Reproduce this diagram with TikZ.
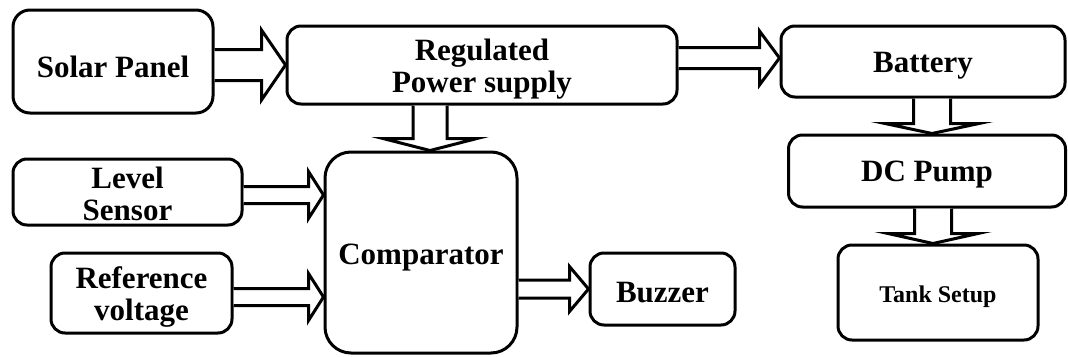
\documentclass[tikz,border=0pt]{standalone}
\usepackage{fontspec}
\setmainfont{Liberation Serif}
\usetikzlibrary{calc}
\tikzset{
  box/.style={draw=black, line width=3pt, rounded corners=14pt, fill=white, inner sep=0pt},
  txt/.style={align=center, inner sep=0pt, yshift=-4pt, font=\fontsize{31}{32}\selectfont\bfseries},
  barrow/.style={draw=black, fill=white, line width=3pt, line join=miter, miter limit=10},
}
\newcommand{\harr}[5]{\draw[barrow] ($(#1)+(0,#3)$) -- ($(#2)+(-#5,#3)$) -- ($(#2)+(-#5,#4)$) -- (#2) -- ($(#2)+(-#5,-#4)$) -- ($(#2)+(-#5,-#3)$) -- ($(#1)+(0,-#3)$);}
\newcommand{\varr}[5]{\draw[barrow] ($(#1)+(#3,0)$) -- ($(#2)+(#3,-#5)$) -- ($(#2)+(#4,-#5)$) -- (#2) -- ($(#2)+(-#4,-#5)$) -- ($(#2)+(-#3,-#5)$) -- ($(#1)+(-#3,0)$);}
\begin{document}
\begin{tikzpicture}[x=1pt, y=-1pt]
\useasboundingbox[fill=white] (0,0) rectangle (1068,356);
% boxes
\node[box, minimum width=200pt, minimum height=103pt, rounded corners=17pt,
  label={[txt, yshift=-1pt]center:Solar Panel}] (sol) at (113,61.5) {};
\node[box, minimum width=390pt, minimum height=78pt,
  label={[txt]center:{Regulated\\Power supply}}] (reg) at (482,65) {};
\node[box, minimum width=284pt, minimum height=71pt,
  label={[txt]center:Battery}] (bat) at (923,61.5) {};
\node[box, minimum width=277pt, minimum height=72pt,
  label={[txt]center:DC Pump}] (dc) at (927,171) {};
\node[box, minimum width=200pt, minimum height=95pt,
  label={[txt, font=\fontsize{24}{28}\selectfont\bfseries]center:Tank Setup}] (tank) at (938,292.5) {};
\node[box, minimum width=229pt, minimum height=66pt,
  label={[txt, yshift=2pt]center:{Level\\Sensor}}] (lev) at (127.5,192) {};
\node[box, minimum width=181pt, minimum height=80pt,
  label={[txt]center:{Reference\\voltage}}] (ref) at (141.5,293) {};
\node[box, minimum width=192pt, minimum height=201pt, rounded corners=26pt,
  label={[txt, yshift=-1pt]center:Comparator}] (comp) at (421,252.5) {};
\node[box, minimum width=145pt, minimum height=72pt,
  label={[txt]center:Buzzer}] (buz) at (662.5,289) {};
% helper coordinates
\coordinate (ya2) at (0,58);
\coordinate (xa3) at (430,0);
\coordinate (ya4) at (0,195);
\coordinate (ya5) at (0,297);
\coordinate (xa7) at (932,0);
\coordinate (xa8) at (933,0);
\coordinate (t1) at (reg.west);
\coordinate (s1) at (sol.east |- t1);
\coordinate (t2) at (bat.west |- ya2);
\coordinate (s2) at (reg.east |- ya2);
\coordinate (t3) at (xa3 |- comp.north);
\coordinate (s3) at (xa3 |- reg.south);
\coordinate (t4) at (comp.west |- ya4);
\coordinate (s4) at (lev.east |- ya4);
\coordinate (t5) at (comp.west |- ya5);
\coordinate (s5) at (ref.east |- ya5);
\coordinate (t6) at (buz.west);
\coordinate (s6) at (comp.east |- t6);
\coordinate (t7) at (xa7 |- dc.north);
\coordinate (s7) at (xa7 |- bat.south);
\coordinate (t8) at (xa8 |- tank.north);
\coordinate (s8) at (xa8 |- dc.south);
% block arrows
\harr{s1}{t1}{15.5}{35}{24}
\harr{s2}{t2}{10.5}{27}{20}
\varr{s3}{t3}{17}{47}{12}
\harr{s4}{t4}{8.5}{23.5}{15}
\harr{s5}{t5}{8.5}{23.5}{15}
\harr{s6}{t6}{9}{22.5}{19}
\varr{s7}{t7}{18.5}{47}{10}
\varr{s8}{t8}{18.5}{45}{10}
\end{tikzpicture}
\end{document}
